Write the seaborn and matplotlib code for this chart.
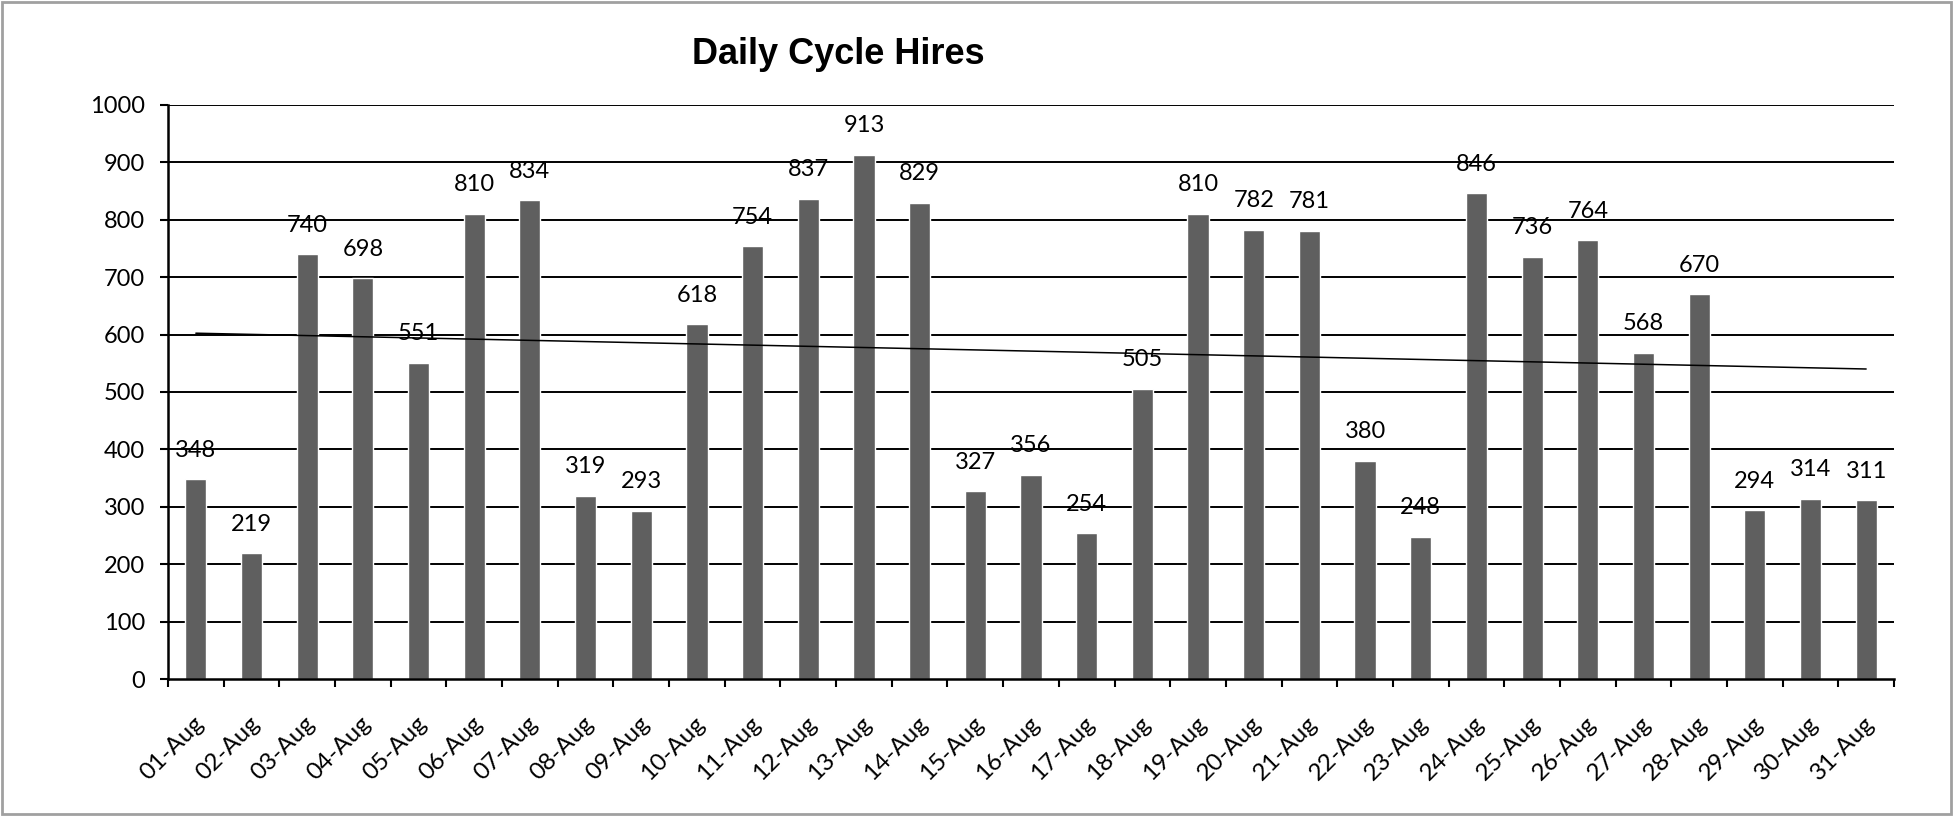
import numpy as np
import pandas as pd
import seaborn as sns
import matplotlib.pyplot as plt
import matplotlib.transforms as mtransforms
from matplotlib.patches import Rectangle

# Daily hires for August
days = ["%02d-Aug" % d for d in range(1, 32)]
hires = [348, 219, 740, 698, 551, 810, 834, 319, 293, 618, 754, 837, 913, 829, 327,
         356, 254, 505, 810, 782, 781, 380, 248, 846, 736, 764, 568, 670, 294, 314, 311]
y_ticks = [0, 100, 200, 300, 400, 500, 600, 700, 800, 900, 1000]

df = pd.DataFrame({"Day": days, "Hires": hires})

sns.set_style("white")
plt.rcParams['font.family'] = ['Lato', 'DejaVu Sans']
plt.rcParams['text.color'] = 'black'

fig = plt.figure(figsize=(19.53, 8.16), dpi=100)
ax = fig.add_axes([168 / 1953, 1 - 679 / 816, (1894 - 168) / 1953, (679 - 105) / 816])

# gridlines behind the bars
for v in y_ticks[1:]:
    ax.axhline(v, color='black', lw=1.4, zorder=0)

sns.barplot(x='Day', y='Hires', data=df, color='#5f5f5f', width=0.38,
            edgecolor='white', linewidth=1, saturation=1, ax=ax, zorder=2)

# linear trend line
xs = np.arange(len(hires))
slope, icept = np.polyfit(xs, hires, 1)
ax.plot(xs, slope * xs + icept, color='black', lw=1.1, zorder=3)

# value labels
for i, v in enumerate(hires):
    ax.annotate(str(v), (i, v), xytext=(0, 21), textcoords='offset points',
                ha='center', va='center', fontsize=17, color='black', zorder=4)

ax.set_xlim(-0.5, len(hires) - 0.5)
ax.set_ylim(0, 1000)
ax.set_yticks(y_ticks)
ax.set_xlabel('')
ax.set_ylabel('')

for s in ['top', 'right']:
    ax.spines[s].set_visible(False)
for s in ['left', 'bottom']:
    ax.spines[s].set_color('black')
    ax.spines[s].set_linewidth(1.8)

ax.tick_params(axis='y', which='major', length=5.5, width=1.5, direction='out',
               left=True, labelsize=17, pad=11, colors='black')
ax.set_xticks(np.arange(-0.5, len(hires)), minor=True)
ax.tick_params(axis='x', which='minor', length=6, width=1.5, direction='out',
               bottom=True, colors='black')
ax.tick_params(axis='x', which='major', length=0, labelsize=17.5, pad=24, colors='black')
offset = mtransforms.ScaledTranslation(0.12, 0, fig.dpi_scale_trans)
for lab in ax.get_xticklabels():
    lab.set_rotation(45)
    lab.set_ha('right')
    lab.set_transform(lab.get_transform() + offset)

fig.text(838 / 1953, 1 - 54 / 816, 'Daily Cycle Hires', ha='center', va='center',
         fontsize=26, fontweight='bold', color='black',
         family=['Liberation Sans', 'DejaVu Sans'])

# grey outer frame
fig.patches.append(Rectangle((0.001, 0.002), 0.998, 0.996, transform=fig.transFigure,
                             fill=False, edgecolor='#a0a0a0', lw=2))

fig.savefig('out.png', dpi=100)
